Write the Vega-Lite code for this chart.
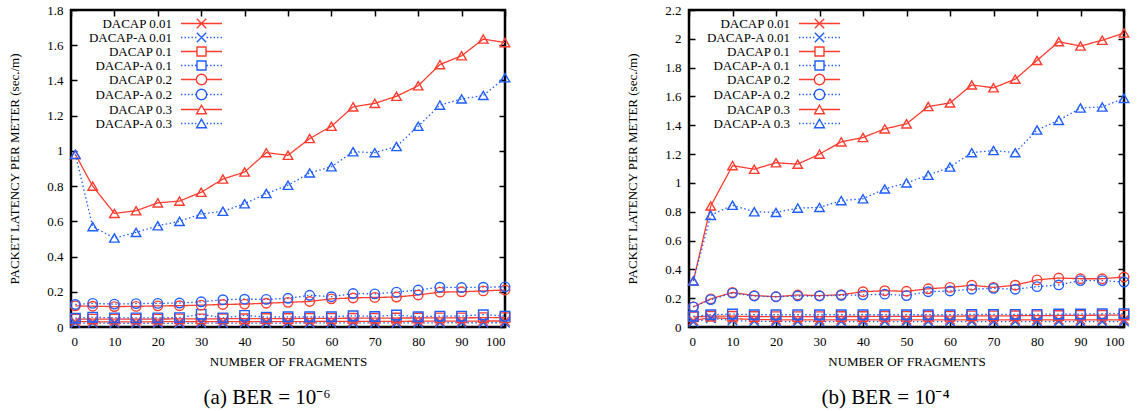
{
"$schema":"https://vega.github.io/schema/vega-lite/v6.json",
"background":"white",
"padding":{"left":7,"top":2,"right":0,"bottom":0},
"config":{"font":"Liberation Serif","view":{"stroke":"black","strokeWidth":2.5},
"axis":{"grid":false,"domain":false,"labelFont":"Liberation Serif","labelFontSize":13,"labelColor":"black","titleFont":"Liberation Serif","titleFontSize":13,"titleFontWeight":"normal","titleColor":"black","tickColor":"black","tickWidth":1.5,"tickSize":-6},
"legend":{"title":null,"orient":"none","legendX":124,"legendY":7,"padding":0,"labelFont":"Liberation Serif","labelFontSize":13,"labelColor":"black","labelAlign":"right","labelOffset":-36,"labelLimit":0,"symbolSize":100,"symbolStrokeWidth":1.4,"symbolOpacity":1,"rowPadding":-5}},
"datasets":{
"a":[
{"s":"DACAP 0.01","x":1,"y":0.03},{"s":"DACAP 0.01","x":5,"y":0.03},{"s":"DACAP 0.01","x":10,"y":0.029},{"s":"DACAP 0.01","x":15,"y":0.029},{"s":"DACAP 0.01","x":20,"y":0.03},{"s":"DACAP 0.01","x":25,"y":0.03},{"s":"DACAP 0.01","x":30,"y":0.03},{"s":"DACAP 0.01","x":35,"y":0.03},{"s":"DACAP 0.01","x":40,"y":0.031},{"s":"DACAP 0.01","x":45,"y":0.031},{"s":"DACAP 0.01","x":50,"y":0.031},{"s":"DACAP 0.01","x":55,"y":0.031},{"s":"DACAP 0.01","x":60,"y":0.032},{"s":"DACAP 0.01","x":65,"y":0.032},{"s":"DACAP 0.01","x":70,"y":0.032},{"s":"DACAP 0.01","x":75,"y":0.032},{"s":"DACAP 0.01","x":80,"y":0.033},{"s":"DACAP 0.01","x":85,"y":0.033},{"s":"DACAP 0.01","x":90,"y":0.033},{"s":"DACAP 0.01","x":95,"y":0.034},{"s":"DACAP 0.01","x":100,"y":0.034},
{"s":"DACAP-A 0.01","x":1,"y":0.022},{"s":"DACAP-A 0.01","x":5,"y":0.022},{"s":"DACAP-A 0.01","x":10,"y":0.021},{"s":"DACAP-A 0.01","x":15,"y":0.021},{"s":"DACAP-A 0.01","x":20,"y":0.021},{"s":"DACAP-A 0.01","x":25,"y":0.021},{"s":"DACAP-A 0.01","x":30,"y":0.022},{"s":"DACAP-A 0.01","x":35,"y":0.022},{"s":"DACAP-A 0.01","x":40,"y":0.022},{"s":"DACAP-A 0.01","x":45,"y":0.022},{"s":"DACAP-A 0.01","x":50,"y":0.022},{"s":"DACAP-A 0.01","x":55,"y":0.023},{"s":"DACAP-A 0.01","x":60,"y":0.023},{"s":"DACAP-A 0.01","x":65,"y":0.023},{"s":"DACAP-A 0.01","x":70,"y":0.023},{"s":"DACAP-A 0.01","x":75,"y":0.023},{"s":"DACAP-A 0.01","x":80,"y":0.023},{"s":"DACAP-A 0.01","x":85,"y":0.024},{"s":"DACAP-A 0.01","x":90,"y":0.024},{"s":"DACAP-A 0.01","x":95,"y":0.024},{"s":"DACAP-A 0.01","x":100,"y":0.024},
{"s":"DACAP 0.1","x":1,"y":0.045},{"s":"DACAP 0.1","x":5,"y":0.045},{"s":"DACAP 0.1","x":10,"y":0.045},{"s":"DACAP 0.1","x":15,"y":0.045},{"s":"DACAP 0.1","x":20,"y":0.045},{"s":"DACAP 0.1","x":25,"y":0.046},{"s":"DACAP 0.1","x":30,"y":0.046},{"s":"DACAP 0.1","x":35,"y":0.047},{"s":"DACAP 0.1","x":40,"y":0.047},{"s":"DACAP 0.1","x":45,"y":0.048},{"s":"DACAP 0.1","x":50,"y":0.048},{"s":"DACAP 0.1","x":55,"y":0.049},{"s":"DACAP 0.1","x":60,"y":0.049},{"s":"DACAP 0.1","x":65,"y":0.05},{"s":"DACAP 0.1","x":70,"y":0.05},{"s":"DACAP 0.1","x":75,"y":0.051},{"s":"DACAP 0.1","x":80,"y":0.051},{"s":"DACAP 0.1","x":85,"y":0.052},{"s":"DACAP 0.1","x":90,"y":0.052},{"s":"DACAP 0.1","x":95,"y":0.053},{"s":"DACAP 0.1","x":100,"y":0.053},
{"s":"DACAP-A 0.1","x":1,"y":0.05},{"s":"DACAP-A 0.1","x":5,"y":0.055},{"s":"DACAP-A 0.1","x":10,"y":0.052},{"s":"DACAP-A 0.1","x":15,"y":0.052},{"s":"DACAP-A 0.1","x":20,"y":0.052},{"s":"DACAP-A 0.1","x":25,"y":0.053},{"s":"DACAP-A 0.1","x":30,"y":0.072},{"s":"DACAP-A 0.1","x":35,"y":0.052},{"s":"DACAP-A 0.1","x":40,"y":0.066},{"s":"DACAP-A 0.1","x":45,"y":0.056},{"s":"DACAP-A 0.1","x":50,"y":0.058},{"s":"DACAP-A 0.1","x":55,"y":0.058},{"s":"DACAP-A 0.1","x":60,"y":0.058},{"s":"DACAP-A 0.1","x":65,"y":0.064},{"s":"DACAP-A 0.1","x":70,"y":0.06},{"s":"DACAP-A 0.1","x":75,"y":0.068},{"s":"DACAP-A 0.1","x":80,"y":0.058},{"s":"DACAP-A 0.1","x":85,"y":0.062},{"s":"DACAP-A 0.1","x":90,"y":0.062},{"s":"DACAP-A 0.1","x":95,"y":0.07},{"s":"DACAP-A 0.1","x":100,"y":0.062},
{"s":"DACAP 0.2","x":1,"y":0.12},{"s":"DACAP 0.2","x":5,"y":0.118},{"s":"DACAP 0.2","x":10,"y":0.116},{"s":"DACAP 0.2","x":15,"y":0.117},{"s":"DACAP 0.2","x":20,"y":0.12},{"s":"DACAP 0.2","x":25,"y":0.121},{"s":"DACAP 0.2","x":30,"y":0.124},{"s":"DACAP 0.2","x":35,"y":0.128},{"s":"DACAP 0.2","x":40,"y":0.13},{"s":"DACAP 0.2","x":45,"y":0.135},{"s":"DACAP 0.2","x":50,"y":0.14},{"s":"DACAP 0.2","x":55,"y":0.145},{"s":"DACAP 0.2","x":60,"y":0.16},{"s":"DACAP 0.2","x":65,"y":0.165},{"s":"DACAP 0.2","x":70,"y":0.168},{"s":"DACAP 0.2","x":75,"y":0.17},{"s":"DACAP 0.2","x":80,"y":0.182},{"s":"DACAP 0.2","x":85,"y":0.198},{"s":"DACAP 0.2","x":90,"y":0.2},{"s":"DACAP 0.2","x":95,"y":0.205},{"s":"DACAP 0.2","x":100,"y":0.21},
{"s":"DACAP-A 0.2","x":1,"y":0.128},{"s":"DACAP-A 0.2","x":5,"y":0.134},{"s":"DACAP-A 0.2","x":10,"y":0.13},{"s":"DACAP-A 0.2","x":15,"y":0.133},{"s":"DACAP-A 0.2","x":20,"y":0.134},{"s":"DACAP-A 0.2","x":25,"y":0.136},{"s":"DACAP-A 0.2","x":30,"y":0.143},{"s":"DACAP-A 0.2","x":35,"y":0.155},{"s":"DACAP-A 0.2","x":40,"y":0.158},{"s":"DACAP-A 0.2","x":45,"y":0.157},{"s":"DACAP-A 0.2","x":50,"y":0.163},{"s":"DACAP-A 0.2","x":55,"y":0.18},{"s":"DACAP-A 0.2","x":60,"y":0.172},{"s":"DACAP-A 0.2","x":65,"y":0.19},{"s":"DACAP-A 0.2","x":70,"y":0.188},{"s":"DACAP-A 0.2","x":75,"y":0.198},{"s":"DACAP-A 0.2","x":80,"y":0.21},{"s":"DACAP-A 0.2","x":85,"y":0.226},{"s":"DACAP-A 0.2","x":90,"y":0.224},{"s":"DACAP-A 0.2","x":95,"y":0.226},{"s":"DACAP-A 0.2","x":100,"y":0.228},
{"s":"DACAP 0.3","x":1,"y":0.98},{"s":"DACAP 0.3","x":5,"y":0.8},{"s":"DACAP 0.3","x":10,"y":0.645},{"s":"DACAP 0.3","x":15,"y":0.66},{"s":"DACAP 0.3","x":20,"y":0.705},{"s":"DACAP 0.3","x":25,"y":0.715},{"s":"DACAP 0.3","x":30,"y":0.765},{"s":"DACAP 0.3","x":35,"y":0.84},{"s":"DACAP 0.3","x":40,"y":0.88},{"s":"DACAP 0.3","x":45,"y":0.99},{"s":"DACAP 0.3","x":50,"y":0.975},{"s":"DACAP 0.3","x":55,"y":1.07},{"s":"DACAP 0.3","x":60,"y":1.14},{"s":"DACAP 0.3","x":65,"y":1.25},{"s":"DACAP 0.3","x":70,"y":1.27},{"s":"DACAP 0.3","x":75,"y":1.31},{"s":"DACAP 0.3","x":80,"y":1.37},{"s":"DACAP 0.3","x":85,"y":1.49},{"s":"DACAP 0.3","x":90,"y":1.54},{"s":"DACAP 0.3","x":95,"y":1.635},{"s":"DACAP 0.3","x":100,"y":1.615},
{"s":"DACAP-A 0.3","x":1,"y":0.98},{"s":"DACAP-A 0.3","x":5,"y":0.57},{"s":"DACAP-A 0.3","x":10,"y":0.505},{"s":"DACAP-A 0.3","x":15,"y":0.537},{"s":"DACAP-A 0.3","x":20,"y":0.575},{"s":"DACAP-A 0.3","x":25,"y":0.6},{"s":"DACAP-A 0.3","x":30,"y":0.642},{"s":"DACAP-A 0.3","x":35,"y":0.657},{"s":"DACAP-A 0.3","x":40,"y":0.7},{"s":"DACAP-A 0.3","x":45,"y":0.758},{"s":"DACAP-A 0.3","x":50,"y":0.805},{"s":"DACAP-A 0.3","x":55,"y":0.875},{"s":"DACAP-A 0.3","x":60,"y":0.91},{"s":"DACAP-A 0.3","x":65,"y":0.995},{"s":"DACAP-A 0.3","x":70,"y":0.99},{"s":"DACAP-A 0.3","x":75,"y":1.025},{"s":"DACAP-A 0.3","x":80,"y":1.14},{"s":"DACAP-A 0.3","x":85,"y":1.26},{"s":"DACAP-A 0.3","x":90,"y":1.295},{"s":"DACAP-A 0.3","x":95,"y":1.315},{"s":"DACAP-A 0.3","x":100,"y":1.415}
],
"b":[
{"s":"DACAP 0.01","x":1,"y":0.045},{"s":"DACAP 0.01","x":5,"y":0.065},{"s":"DACAP 0.01","x":10,"y":0.058},{"s":"DACAP 0.01","x":15,"y":0.052},{"s":"DACAP 0.01","x":20,"y":0.05},{"s":"DACAP 0.01","x":25,"y":0.05},{"s":"DACAP 0.01","x":30,"y":0.05},{"s":"DACAP 0.01","x":35,"y":0.05},{"s":"DACAP 0.01","x":40,"y":0.05},{"s":"DACAP 0.01","x":45,"y":0.05},{"s":"DACAP 0.01","x":50,"y":0.05},{"s":"DACAP 0.01","x":55,"y":0.05},{"s":"DACAP 0.01","x":60,"y":0.05},{"s":"DACAP 0.01","x":65,"y":0.05},{"s":"DACAP 0.01","x":70,"y":0.05},{"s":"DACAP 0.01","x":75,"y":0.05},{"s":"DACAP 0.01","x":80,"y":0.05},{"s":"DACAP 0.01","x":85,"y":0.05},{"s":"DACAP 0.01","x":90,"y":0.05},{"s":"DACAP 0.01","x":95,"y":0.05},{"s":"DACAP 0.01","x":100,"y":0.05},
{"s":"DACAP-A 0.01","x":1,"y":0.035},{"s":"DACAP-A 0.01","x":5,"y":0.06},{"s":"DACAP-A 0.01","x":10,"y":0.045},{"s":"DACAP-A 0.01","x":15,"y":0.04},{"s":"DACAP-A 0.01","x":20,"y":0.038},{"s":"DACAP-A 0.01","x":25,"y":0.038},{"s":"DACAP-A 0.01","x":30,"y":0.038},{"s":"DACAP-A 0.01","x":35,"y":0.038},{"s":"DACAP-A 0.01","x":40,"y":0.038},{"s":"DACAP-A 0.01","x":45,"y":0.038},{"s":"DACAP-A 0.01","x":50,"y":0.038},{"s":"DACAP-A 0.01","x":55,"y":0.038},{"s":"DACAP-A 0.01","x":60,"y":0.038},{"s":"DACAP-A 0.01","x":65,"y":0.038},{"s":"DACAP-A 0.01","x":70,"y":0.038},{"s":"DACAP-A 0.01","x":75,"y":0.038},{"s":"DACAP-A 0.01","x":80,"y":0.038},{"s":"DACAP-A 0.01","x":85,"y":0.038},{"s":"DACAP-A 0.01","x":90,"y":0.038},{"s":"DACAP-A 0.01","x":95,"y":0.038},{"s":"DACAP-A 0.01","x":100,"y":0.038},
{"s":"DACAP 0.1","x":1,"y":0.07},{"s":"DACAP 0.1","x":5,"y":0.075},{"s":"DACAP 0.1","x":10,"y":0.075},{"s":"DACAP 0.1","x":15,"y":0.073},{"s":"DACAP 0.1","x":20,"y":0.072},{"s":"DACAP 0.1","x":25,"y":0.072},{"s":"DACAP 0.1","x":30,"y":0.072},{"s":"DACAP 0.1","x":35,"y":0.073},{"s":"DACAP 0.1","x":40,"y":0.073},{"s":"DACAP 0.1","x":45,"y":0.074},{"s":"DACAP 0.1","x":50,"y":0.074},{"s":"DACAP 0.1","x":55,"y":0.075},{"s":"DACAP 0.1","x":60,"y":0.075},{"s":"DACAP 0.1","x":65,"y":0.077},{"s":"DACAP 0.1","x":70,"y":0.077},{"s":"DACAP 0.1","x":75,"y":0.078},{"s":"DACAP 0.1","x":80,"y":0.079},{"s":"DACAP 0.1","x":85,"y":0.08},{"s":"DACAP 0.1","x":90,"y":0.081},{"s":"DACAP 0.1","x":95,"y":0.082},{"s":"DACAP 0.1","x":100,"y":0.083},
{"s":"DACAP-A 0.1","x":1,"y":0.075},{"s":"DACAP-A 0.1","x":5,"y":0.085},{"s":"DACAP-A 0.1","x":10,"y":0.09},{"s":"DACAP-A 0.1","x":15,"y":0.085},{"s":"DACAP-A 0.1","x":20,"y":0.085},{"s":"DACAP-A 0.1","x":25,"y":0.085},{"s":"DACAP-A 0.1","x":30,"y":0.085},{"s":"DACAP-A 0.1","x":35,"y":0.085},{"s":"DACAP-A 0.1","x":40,"y":0.085},{"s":"DACAP-A 0.1","x":45,"y":0.085},{"s":"DACAP-A 0.1","x":50,"y":0.085},{"s":"DACAP-A 0.1","x":55,"y":0.085},{"s":"DACAP-A 0.1","x":60,"y":0.085},{"s":"DACAP-A 0.1","x":65,"y":0.087},{"s":"DACAP-A 0.1","x":70,"y":0.087},{"s":"DACAP-A 0.1","x":75,"y":0.088},{"s":"DACAP-A 0.1","x":80,"y":0.088},{"s":"DACAP-A 0.1","x":85,"y":0.09},{"s":"DACAP-A 0.1","x":90,"y":0.09},{"s":"DACAP-A 0.1","x":95,"y":0.092},{"s":"DACAP-A 0.1","x":100,"y":0.093},
{"s":"DACAP 0.2","x":1,"y":0.14},{"s":"DACAP 0.2","x":5,"y":0.195},{"s":"DACAP 0.2","x":10,"y":0.24},{"s":"DACAP 0.2","x":15,"y":0.218},{"s":"DACAP 0.2","x":20,"y":0.21},{"s":"DACAP 0.2","x":25,"y":0.222},{"s":"DACAP 0.2","x":30,"y":0.218},{"s":"DACAP 0.2","x":35,"y":0.224},{"s":"DACAP 0.2","x":40,"y":0.245},{"s":"DACAP 0.2","x":45,"y":0.252},{"s":"DACAP 0.2","x":50,"y":0.248},{"s":"DACAP 0.2","x":55,"y":0.265},{"s":"DACAP 0.2","x":60,"y":0.275},{"s":"DACAP 0.2","x":65,"y":0.29},{"s":"DACAP 0.2","x":70,"y":0.275},{"s":"DACAP 0.2","x":75,"y":0.29},{"s":"DACAP 0.2","x":80,"y":0.327},{"s":"DACAP 0.2","x":85,"y":0.34},{"s":"DACAP 0.2","x":90,"y":0.335},{"s":"DACAP 0.2","x":95,"y":0.335},{"s":"DACAP 0.2","x":100,"y":0.347},
{"s":"DACAP-A 0.2","x":1,"y":0.14},{"s":"DACAP-A 0.2","x":5,"y":0.19},{"s":"DACAP-A 0.2","x":10,"y":0.235},{"s":"DACAP-A 0.2","x":15,"y":0.215},{"s":"DACAP-A 0.2","x":20,"y":0.21},{"s":"DACAP-A 0.2","x":25,"y":0.215},{"s":"DACAP-A 0.2","x":30,"y":0.215},{"s":"DACAP-A 0.2","x":35,"y":0.22},{"s":"DACAP-A 0.2","x":40,"y":0.223},{"s":"DACAP-A 0.2","x":45,"y":0.228},{"s":"DACAP-A 0.2","x":50,"y":0.218},{"s":"DACAP-A 0.2","x":55,"y":0.245},{"s":"DACAP-A 0.2","x":60,"y":0.25},{"s":"DACAP-A 0.2","x":65,"y":0.262},{"s":"DACAP-A 0.2","x":70,"y":0.268},{"s":"DACAP-A 0.2","x":75,"y":0.262},{"s":"DACAP-A 0.2","x":80,"y":0.28},{"s":"DACAP-A 0.2","x":85,"y":0.292},{"s":"DACAP-A 0.2","x":90,"y":0.322},{"s":"DACAP-A 0.2","x":95,"y":0.322},{"s":"DACAP-A 0.2","x":100,"y":0.312},
{"s":"DACAP 0.3","x":1,"y":0.32},{"s":"DACAP 0.3","x":5,"y":0.84},{"s":"DACAP 0.3","x":10,"y":1.12},{"s":"DACAP 0.3","x":15,"y":1.095},{"s":"DACAP 0.3","x":20,"y":1.14},{"s":"DACAP 0.3","x":25,"y":1.13},{"s":"DACAP 0.3","x":30,"y":1.2},{"s":"DACAP 0.3","x":35,"y":1.285},{"s":"DACAP 0.3","x":40,"y":1.315},{"s":"DACAP 0.3","x":45,"y":1.375},{"s":"DACAP 0.3","x":50,"y":1.41},{"s":"DACAP 0.3","x":55,"y":1.53},{"s":"DACAP 0.3","x":60,"y":1.555},{"s":"DACAP 0.3","x":65,"y":1.68},{"s":"DACAP 0.3","x":70,"y":1.66},{"s":"DACAP 0.3","x":75,"y":1.72},{"s":"DACAP 0.3","x":80,"y":1.85},{"s":"DACAP 0.3","x":85,"y":1.98},{"s":"DACAP 0.3","x":90,"y":1.95},{"s":"DACAP 0.3","x":95,"y":1.99},{"s":"DACAP 0.3","x":100,"y":2.04},
{"s":"DACAP-A 0.3","x":1,"y":0.32},{"s":"DACAP-A 0.3","x":5,"y":0.775},{"s":"DACAP-A 0.3","x":10,"y":0.845},{"s":"DACAP-A 0.3","x":15,"y":0.8},{"s":"DACAP-A 0.3","x":20,"y":0.795},{"s":"DACAP-A 0.3","x":25,"y":0.825},{"s":"DACAP-A 0.3","x":30,"y":0.83},{"s":"DACAP-A 0.3","x":35,"y":0.877},{"s":"DACAP-A 0.3","x":40,"y":0.89},{"s":"DACAP-A 0.3","x":45,"y":0.958},{"s":"DACAP-A 0.3","x":50,"y":1.0},{"s":"DACAP-A 0.3","x":55,"y":1.053},{"s":"DACAP-A 0.3","x":60,"y":1.11},{"s":"DACAP-A 0.3","x":65,"y":1.21},{"s":"DACAP-A 0.3","x":70,"y":1.225},{"s":"DACAP-A 0.3","x":75,"y":1.21},{"s":"DACAP-A 0.3","x":80,"y":1.367},{"s":"DACAP-A 0.3","x":85,"y":1.434},{"s":"DACAP-A 0.3","x":90,"y":1.52},{"s":"DACAP-A 0.3","x":95,"y":1.527},{"s":"DACAP-A 0.3","x":100,"y":1.587}
]},
"spacing":98,
"resolve":{"scale":{"color":"independent","strokeDash":"independent","shape":"independent"}},
"hconcat":[
{"width":434,"height":317,"data":{"name":"a"},
"title":{"text":"(a)  BER = 10⁻⁶","orient":"bottom","anchor":"middle","frame":"bounds","fontSize":21,"fontWeight":"normal","font":"Liberation Serif","color":"black","offset":19},
"resolve":{"axis":{"x":"independent","y":"independent"},"scale":{"color":"independent","shape":"independent"}},
"layer":[
{"mark":{"type":"line","strokeWidth":1.3},
"encoding":{
"x":{"field":"x","type":"quantitative","scale":{"domain":[0,100],"nice":false},"axis":{"orient":"bottom","title":"NUMBER OF FRAGMENTS","values":[0,10,20,30,40,50,60,70,80,90,100],"labelFont":"Liberation Serif","titleFont":"Liberation Serif","labelPadding":14,"titlePadding":7}},
"y":{"field":"y","type":"quantitative","scale":{"domain":[0,1.8],"nice":false},"axis":{"orient":"left","title":"PACKET LATENCY PER METER (sec./m)","values":[0,0.2,0.4,0.6,0.8,1,1.2,1.4,1.6,1.8],"format":"~g","labelFont":"Liberation Serif","titleFont":"Liberation Serif","labelPadding":14,"titlePadding":25}},
"color":{"field":"s","type":"nominal","scale":{"domain":["DACAP 0.01","DACAP-A 0.01","DACAP 0.1","DACAP-A 0.1","DACAP 0.2","DACAP-A 0.2","DACAP 0.3","DACAP-A 0.3"],"range":["#ff3c2e","#1f5eff","#ff3c2e","#1f5eff","#ff3c2e","#1f5eff","#ff3c2e","#1f5eff"]},"legend":null},
"strokeDash":{"field":"s","type":"nominal","scale":{"domain":["DACAP 0.01","DACAP-A 0.01","DACAP 0.1","DACAP-A 0.1","DACAP 0.2","DACAP-A 0.2","DACAP 0.3","DACAP-A 0.3"],"range":[[1,0],[1.5,2.5],[1,0],[1.5,2.5],[1,0],[1.5,2.5],[1,0],[1.5,2.5]]},"legend":null}
}},
{"mark":{"type":"point","filled":false,"strokeWidth":1.4,"size":90,"opacity":1},
"encoding":{
"x":{"field":"x","type":"quantitative","axis":{"orient":"top","labels":false,"title":null,"values":[0,10,20,30,40,50,60,70,80,90,100]}},
"y":{"field":"y","type":"quantitative","axis":{"orient":"right","labels":false,"title":null,"values":[0,0.2,0.4,0.6,0.8,1,1.2,1.4,1.6,1.8]}},
"color":{"field":"s","type":"nominal","scale":{"domain":["DACAP 0.01","DACAP-A 0.01","DACAP 0.1","DACAP-A 0.1","DACAP 0.2","DACAP-A 0.2","DACAP 0.3","DACAP-A 0.3"],"range":["#ff3c2e","#1f5eff","#ff3c2e","#1f5eff","#ff3c2e","#1f5eff","#ff3c2e","#1f5eff"]},"legend":null},
"shape":{"field":"s","type":"nominal","scale":{"domain":["DACAP 0.01","DACAP-A 0.01","DACAP 0.1","DACAP-A 0.1","DACAP 0.2","DACAP-A 0.2","DACAP 0.3","DACAP-A 0.3"],"range":["M-1,-1L1,1M-1,1L1,-1","M-1,-1L1,1M-1,1L1,-1","square","square","circle","circle","triangle-up","triangle-up"]},"legend":null}
}},
{"mark":{"type":"point","filled":false,"strokeWidth":1.4,"size":100,"opacity":0},
"encoding":{
"x":{"field":"x","type":"quantitative","axis":null},
"y":{"field":"y","type":"quantitative","axis":null},
"color":{"field":"s","type":"nominal","scale":{"domain":["DACAP 0.01","DACAP-A 0.01","DACAP 0.1","DACAP-A 0.1","DACAP 0.2","DACAP-A 0.2","DACAP 0.3","DACAP-A 0.3"],"range":["#ff3c2e","#1f5eff","#ff3c2e","#1f5eff","#ff3c2e","#1f5eff","#ff3c2e","#1f5eff"]}},
"shape":{"field":"s","type":"nominal","scale":{"domain":["DACAP 0.01","DACAP-A 0.01","DACAP 0.1","DACAP-A 0.1","DACAP 0.2","DACAP-A 0.2","DACAP 0.3","DACAP-A 0.3"],"range":["M-4.1,0H4.1M-0.94,-0.94L0.94,0.94M-0.94,0.94L0.94,-0.94","M-4.1,0h0.28M-3.4,0h0.28M-2.7,0h0.28M-2,0h0.28M-1.3,0h0.28M1.02,0h0.28M1.72,0h0.28M2.42,0h0.28M3.12,0h0.28M3.82,0h0.28M-0.94,-0.94L0.94,0.94M-0.94,0.94L0.94,-0.94","M-4.1,0H-0.9M0.9,0H4.1M-0.9,-0.9H0.9V0.9H-0.9Z","M-4.1,0h0.28M-3.4,0h0.28M-2.7,0h0.28M-2,0h0.28M-1.3,0h0.28M1.02,0h0.28M1.72,0h0.28M2.42,0h0.28M3.12,0h0.28M3.82,0h0.28M-0.9,-0.9H0.9V0.9H-0.9Z","M-4.1,0H-1.04M1.04,0H4.1M-1.04,0A1.04,1.04 0 1,1 1.04,0A1.04,1.04 0 1,1 -1.04,0","M-4.1,0h0.28M-3.4,0h0.28M-2.7,0h0.28M-2,0h0.28M-1.3,0h0.28M1.02,0h0.28M1.72,0h0.28M2.42,0h0.28M3.12,0h0.28M3.82,0h0.28M-1.04,0A1.04,1.04 0 1,1 1.04,0A1.04,1.04 0 1,1 -1.04,0","M-4.1,0H-0.5M0.5,0H4.1M0,-0.85L0.98,0.85L-0.98,0.85Z","M-4.1,0h0.28M-3.4,0h0.28M-2.7,0h0.28M-2,0h0.28M-1.3,0h0.28M1.02,0h0.28M1.72,0h0.28M2.42,0h0.28M3.12,0h0.28M3.82,0h0.28M0,-0.85L0.98,0.85L-0.98,0.85Z"]}}
}}
]},
{"width":435,"height":317,"data":{"name":"b"},
"title":{"text":"(b)  BER = 10⁻⁴","orient":"bottom","anchor":"middle","frame":"bounds","fontSize":21,"fontWeight":"normal","font":"Liberation Serif","color":"black","offset":19},
"resolve":{"axis":{"x":"independent","y":"independent"},"scale":{"color":"independent","shape":"independent"}},
"layer":[
{"mark":{"type":"line","strokeWidth":1.3},
"encoding":{
"x":{"field":"x","type":"quantitative","scale":{"domain":[0,100],"nice":false},"axis":{"orient":"bottom","title":"NUMBER OF FRAGMENTS","values":[0,10,20,30,40,50,60,70,80,90,100],"labelFont":"Liberation Serif","titleFont":"Liberation Serif","labelPadding":14,"titlePadding":7}},
"y":{"field":"y","type":"quantitative","scale":{"domain":[0,2.2],"nice":false},"axis":{"orient":"left","title":"PACKET LATENCY PER METER (sec./m)","values":[0,0.2,0.4,0.6,0.8,1,1.2,1.4,1.6,1.8,2,2.2],"format":"~g","labelFont":"Liberation Serif","titleFont":"Liberation Serif","labelPadding":14,"titlePadding":25}},
"color":{"field":"s","type":"nominal","scale":{"domain":["DACAP 0.01","DACAP-A 0.01","DACAP 0.1","DACAP-A 0.1","DACAP 0.2","DACAP-A 0.2","DACAP 0.3","DACAP-A 0.3"],"range":["#ff3c2e","#1f5eff","#ff3c2e","#1f5eff","#ff3c2e","#1f5eff","#ff3c2e","#1f5eff"]},"legend":null},
"strokeDash":{"field":"s","type":"nominal","scale":{"domain":["DACAP 0.01","DACAP-A 0.01","DACAP 0.1","DACAP-A 0.1","DACAP 0.2","DACAP-A 0.2","DACAP 0.3","DACAP-A 0.3"],"range":[[1,0],[1.5,2.5],[1,0],[1.5,2.5],[1,0],[1.5,2.5],[1,0],[1.5,2.5]]},"legend":null}
}},
{"mark":{"type":"point","filled":false,"strokeWidth":1.4,"size":90,"opacity":1},
"encoding":{
"x":{"field":"x","type":"quantitative","axis":{"orient":"top","labels":false,"title":null,"values":[0,10,20,30,40,50,60,70,80,90,100]}},
"y":{"field":"y","type":"quantitative","axis":{"orient":"right","labels":false,"title":null,"values":[0,0.2,0.4,0.6,0.8,1,1.2,1.4,1.6,1.8,2,2.2]}},
"color":{"field":"s","type":"nominal","scale":{"domain":["DACAP 0.01","DACAP-A 0.01","DACAP 0.1","DACAP-A 0.1","DACAP 0.2","DACAP-A 0.2","DACAP 0.3","DACAP-A 0.3"],"range":["#ff3c2e","#1f5eff","#ff3c2e","#1f5eff","#ff3c2e","#1f5eff","#ff3c2e","#1f5eff"]},"legend":null},
"shape":{"field":"s","type":"nominal","scale":{"domain":["DACAP 0.01","DACAP-A 0.01","DACAP 0.1","DACAP-A 0.1","DACAP 0.2","DACAP-A 0.2","DACAP 0.3","DACAP-A 0.3"],"range":["M-1,-1L1,1M-1,1L1,-1","M-1,-1L1,1M-1,1L1,-1","square","square","circle","circle","triangle-up","triangle-up"]},"legend":null}
}},
{"mark":{"type":"point","filled":false,"strokeWidth":1.4,"size":100,"opacity":0},
"encoding":{
"x":{"field":"x","type":"quantitative","axis":null},
"y":{"field":"y","type":"quantitative","axis":null},
"color":{"field":"s","type":"nominal","scale":{"domain":["DACAP 0.01","DACAP-A 0.01","DACAP 0.1","DACAP-A 0.1","DACAP 0.2","DACAP-A 0.2","DACAP 0.3","DACAP-A 0.3"],"range":["#ff3c2e","#1f5eff","#ff3c2e","#1f5eff","#ff3c2e","#1f5eff","#ff3c2e","#1f5eff"]}},
"shape":{"field":"s","type":"nominal","scale":{"domain":["DACAP 0.01","DACAP-A 0.01","DACAP 0.1","DACAP-A 0.1","DACAP 0.2","DACAP-A 0.2","DACAP 0.3","DACAP-A 0.3"],"range":["M-4.1,0H4.1M-0.94,-0.94L0.94,0.94M-0.94,0.94L0.94,-0.94","M-4.1,0h0.28M-3.4,0h0.28M-2.7,0h0.28M-2,0h0.28M-1.3,0h0.28M1.02,0h0.28M1.72,0h0.28M2.42,0h0.28M3.12,0h0.28M3.82,0h0.28M-0.94,-0.94L0.94,0.94M-0.94,0.94L0.94,-0.94","M-4.1,0H-0.9M0.9,0H4.1M-0.9,-0.9H0.9V0.9H-0.9Z","M-4.1,0h0.28M-3.4,0h0.28M-2.7,0h0.28M-2,0h0.28M-1.3,0h0.28M1.02,0h0.28M1.72,0h0.28M2.42,0h0.28M3.12,0h0.28M3.82,0h0.28M-0.9,-0.9H0.9V0.9H-0.9Z","M-4.1,0H-1.04M1.04,0H4.1M-1.04,0A1.04,1.04 0 1,1 1.04,0A1.04,1.04 0 1,1 -1.04,0","M-4.1,0h0.28M-3.4,0h0.28M-2.7,0h0.28M-2,0h0.28M-1.3,0h0.28M1.02,0h0.28M1.72,0h0.28M2.42,0h0.28M3.12,0h0.28M3.82,0h0.28M-1.04,0A1.04,1.04 0 1,1 1.04,0A1.04,1.04 0 1,1 -1.04,0","M-4.1,0H-0.5M0.5,0H4.1M0,-0.85L0.98,0.85L-0.98,0.85Z","M-4.1,0h0.28M-3.4,0h0.28M-2.7,0h0.28M-2,0h0.28M-1.3,0h0.28M1.02,0h0.28M1.72,0h0.28M2.42,0h0.28M3.12,0h0.28M3.82,0h0.28M0,-0.85L0.98,0.85L-0.98,0.85Z"]}}
}}
]}
]
}
